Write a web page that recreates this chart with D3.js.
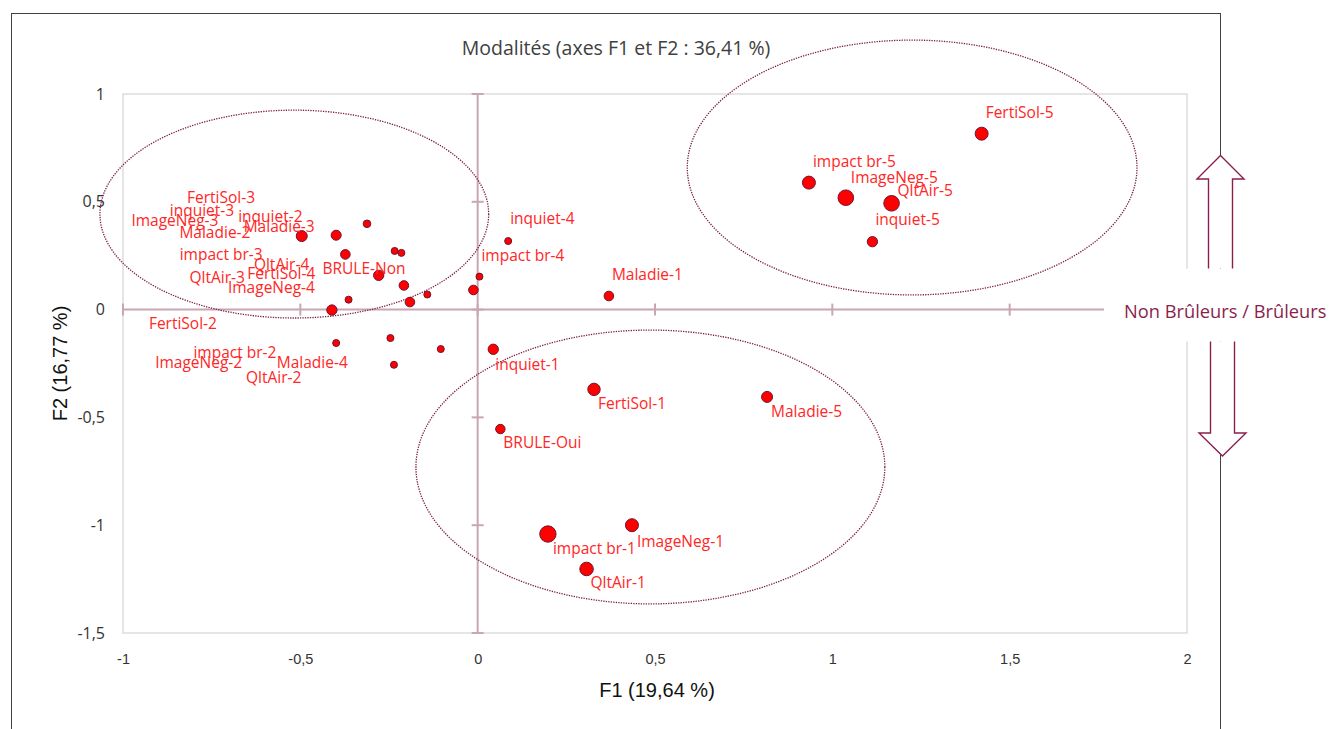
<!DOCTYPE html>
<html>
<head>
<meta charset="utf-8">
<script src="https://cdn.jsdelivr.net/npm/d3@7"></script>
<style>
  body { margin: 0; background: #fff; }
  svg { display: block; }
</style>
</head>
<body>
<div id="chart"></div>
<script>
// modalités (ACM) - coordonnées sur F1 / F2
const modalites = [
  "BRULE-Non", "BRULE-Oui",
  "FertiSol-1", "FertiSol-2", "FertiSol-3", "FertiSol-4", "FertiSol-5",
  "ImageNeg-1", "ImageNeg-2", "ImageNeg-3", "ImageNeg-4", "ImageNeg-5",
  "impact br-1", "impact br-2", "impact br-3", "impact br-4", "impact br-5",
  "inquiet-1", "inquiet-2", "inquiet-3", "inquiet-4", "inquiet-5",
  "Maladie-1", "Maladie-2", "Maladie-3", "Maladie-4", "Maladie-5",
  "QltAir-1", "QltAir-2", "QltAir-3", "QltAir-4", "QltAir-5",
];
const f1 = [
  -0.012, 0.064,
  0.328, -0.411, -0.312, -0.142, 1.421,
  0.435, -0.399, -0.373, -0.191, 1.038,
  0.198, -0.246, -0.279, 0.005, 0.934,
  0.044, -0.399, -0.496, 0.086, 1.113,
  0.370, -0.215, -0.234, -0.104, 0.816,
  0.307, -0.236, -0.364, -0.208, 1.167,
];
const f2 = [
  0.091, -0.554,
  -0.370, -0.002, 0.398, 0.070, 0.816,
  -1.000, -0.155, 0.256, 0.035, 0.519,
  -1.041, -0.132, 0.159, 0.153, 0.589,
  -0.184, 0.345, 0.341, 0.318, 0.315,
  0.063, 0.263, 0.272, -0.183, -0.405,
  -1.203, -0.256, 0.046, 0.112, 0.493,
];
// poids relatif des modalités (taille des bulles)
const poids = [
  1.76, 1.7,
  2.8, 2.0, 1.15, 1.0, 3.06,
  3.06, 1.0, 1.76, 1.76, 4.3,
  4.7, 1.0, 2.0, 1.0, 3.06,
  2.0, 1.9, 2.25, 1.0, 2.0,
  1.76, 1.0, 1.0, 1.0, 2.25,
  3.3, 1.0, 1.0, 1.76, 4.3,
];
const xTicks = [-1, -0.5, 0, 0.5, 1, 1.5, 2];
const yTicks = [-1.5, -1, -0.5, 0, 0.5, 1];

// groupes entourés (centre et demi-axes, unités des axes)
const groupes = [
  { cx: -0.517, cy: 0.443, rx: 0.548, ry: 0.482 },
  { cx: 1.225, cy: 0.659, rx: 0.634, ry: 0.591 },
  { cx: 0.487, cy: -0.73, rx: 0.661, ry: 0.635 },
];

// décalage des étiquettes (px) par rapport au point
const labelOffsets = [
  [-151, -21], [3, 14],
  [4, 14], [-183, 14], [-180, -26], [-180, -21], [4, -21],
  [5, 16], [-181, 20], [-214, -34], [-182, -14], [5, -20],
  [5, 15], [-197, 15], [-199, -21], [2, -21], [4, -21],
  [2, 15], [-98, -19], [-132, -26], [2, -22], [3, -22],
  [3, -21], [-222, -20], [-151, -24], [-164, 14], [4, 15],
  [4, 14], [-148, 13], [-159, -22], [-150, -21], [6, -13],
];

const width = 1330;
const height = 729;
const margin = { top: 94, right: 143, bottom: 96, left: 123 };
const fmt = (d) => String(d).replace(".", ",");

const x = d3.scaleLinear().domain([-1, 2]).range([margin.left, width - margin.right]);
const y = d3.scaleLinear().domain([-1.5, 1]).range([height - margin.bottom, margin.top]);
const r = d3.scaleSqrt().domain([0, 1]).range([0, 4]);

const data = modalites.map((name, i) => ({
  name,
  f1: f1[i],
  f2: f2[i],
  w: poids[i],
  off: labelOffsets[i],
}));

const svg = d3
  .select("#chart")
  .append("svg")
  .attr("width", width)
  .attr("height", height)
  .attr("viewBox", [0, 0, width, height]);

// cadre de la zone de tracé
svg
  .append("rect")
  .attr("x", x(-1))
  .attr("y", y(1))
  .attr("width", x(2) - x(-1))
  .attr("height", y(-1.5) - y(1))
  .attr("fill", "none")
  .attr("stroke", "#d4d4d4")
  .attr("stroke-width", 1.2);

// graduations
svg
  .append("g")
  .attr("transform", `translate(0,${y(-1.5)})`)
  .call(d3.axisBottom(x).tickValues(xTicks).tickFormat(fmt).tickSize(0).tickPadding(21))
  .call((g) => g.select(".domain").remove())
  .call((g) =>
    g
      .selectAll("text")
      .attr("fill", "#333")
      .style("font-family", "Liberation Sans, Arial, sans-serif")
      .style("font-size", "14.5px")
  );

svg
  .append("g")
  .attr("transform", `translate(${x(-1)},0)`)
  .call(d3.axisLeft(y).tickValues(yTicks).tickFormat(fmt).tickSize(0).tickPadding(18))
  .call((g) => g.select(".domain").remove())
  .call((g) =>
    g
      .selectAll("text")
      .attr("fill", "#333")
      .style("font-family", "Open Sans, sans-serif")
      .style("font-size", "16px")
  );

// axes passant par l'origine
const gZero = svg.append("g").attr("stroke", "#c9a6b3").attr("stroke-width", 2);
gZero
  .append("line")
  .attr("x1", x(-1))
  .attr("x2", x(2))
  .attr("y1", y(0))
  .attr("y2", y(0));
gZero
  .append("line")
  .attr("x1", x(0))
  .attr("x2", x(0))
  .attr("y1", y(1))
  .attr("y2", y(-1.5));
gZero
  .selectAll(".ty")
  .data(yTicks)
  .join("line")
  .attr("class", "ty")
  .attr("x1", x(0) - 6)
  .attr("x2", x(0) + 6)
  .attr("y1", (d) => y(d))
  .attr("y2", (d) => y(d));
gZero
  .selectAll(".tx")
  .data(xTicks)
  .join("line")
  .attr("class", "tx")
  .attr("x1", (d) => x(d))
  .attr("x2", (d) => x(d))
  .attr("y1", y(0) - 6)
  .attr("y2", y(0) + 6);

// ellipses des groupes
svg
  .append("g")
  .selectAll("ellipse")
  .data(groupes)
  .join("ellipse")
  .attr("cx", (d) => x(d.cx))
  .attr("cy", (d) => y(d.cy))
  .attr("rx", (d) => x(d.rx) - x(0))
  .attr("ry", (d) => y(0) - y(d.ry))
  .attr("fill", "none")
  .attr("stroke", "#7d1c45")
  .attr("stroke-width", 1.3)
  .attr("stroke-dasharray", "1.3,1.2");

// points
svg
  .append("g")
  .selectAll("circle")
  .data(data)
  .join("circle")
  .attr("cx", (d) => x(d.f1))
  .attr("cy", (d) => y(d.f2))
  .attr("r", (d) => r(d.w) - 0.5)
  .attr("fill", "#ff0000")
  .attr("stroke", "#6e1434")
  .attr("stroke-width", 1);

// étiquettes
svg
  .append("g")
  .selectAll("text")
  .data(data)
  .join("text")
  .attr("x", (d) => x(d.f1) + d.off[0])
  .attr("y", (d) => y(d.f2) + d.off[1])
  .attr("dy", "0.35em")
  .attr("fill", "#ff2626")
  .style("font-family", "Open Sans, sans-serif")
  .style("font-size", "15.5px")
  .text((d) => d.name);

// titres
svg
  .append("text")
  .attr("x", 616)
  .attr("y", 48)
  .attr("dy", "0.35em")
  .attr("text-anchor", "middle")
  .attr("fill", "#404040")
  .style("font-family", "Open Sans, sans-serif")
  .style("font-size", "19.5px")
  .text("Modalités (axes F1 et F2 : 36,41 %)");

svg
  .append("text")
  .attr("x", (x(-1) + x(2)) / 2 + 2)
  .attr("y", 690)
  .attr("dy", "0.35em")
  .attr("text-anchor", "middle")
  .attr("fill", "#111")
  .style("font-family", "Liberation Sans, Arial, sans-serif")
  .style("font-size", "20px")
  .text("F1 (19,64 %)");

svg
  .append("text")
  .attr("transform", `translate(60,${(y(1) + y(-1.5)) / 2})rotate(-90)`)
  .attr("dy", "0.35em")
  .attr("text-anchor", "middle")
  .attr("fill", "#111")
  .style("font-family", "Liberation Sans, Arial, sans-serif")
  .style("font-size", "20px")
  .text("F2 (16,77 %)");

// cadre extérieur
svg
  .append("rect")
  .attr("x", 11.5)
  .attr("y", 13.5)
  .attr("width", 1209)
  .attr("height", 740)
  .attr("fill", "none")
  .attr("stroke", "#404040")
  .attr("stroke-width", 1);

// annotation Non Brûleurs / Brûleurs
const annX = x(2) + 34;
svg
  .append("rect")
  .attr("x", 1104)
  .attr("y", y(0) - 41)
  .attr("width", width - 1104)
  .attr("height", 73)
  .attr("fill", "#fff");

svg
  .append("text")
  .attr("x", 1124)
  .attr("y", y(0) + 2)
  .attr("dy", "0.35em")
  .attr("fill", "#8a1f4d")
  .style("font-family", "Open Sans, sans-serif")
  .style("font-size", "18.3px")
  .text("Non Brûleurs / Brûleurs");

const arrow = (cx, yShaft, yBase, yTip) => {
  const sw = 12;
  const hw = 23.5;
  return [
    [cx - sw, yShaft],
    [cx - sw, yBase],
    [cx - hw, yBase],
    [cx, yTip],
    [cx + hw, yBase],
    [cx + sw, yBase],
    [cx + sw, yShaft],
  ];
};
svg
  .append("g")
  .selectAll("path")
  .data([arrow(annX - 0.5, y(0) - 41, 179, 155.5), arrow(annX + 1.5, y(0) + 32, 433, 456)])
  .join("path")
  .attr("d", (d) => d3.line()(d))
  .attr("fill", "#fff")
  .attr("stroke", "#8a1f4d")
  .attr("stroke-width", 1.4);
</script>
</body>
</html>
